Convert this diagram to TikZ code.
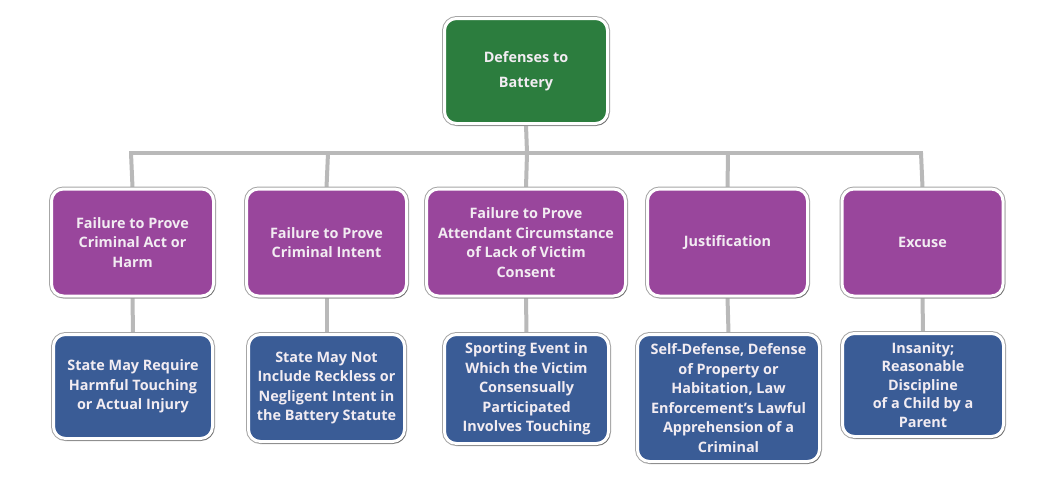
\documentclass[tikz,border=0pt]{standalone}
\usepackage{fontspec}
\setmainfont{Open Sans}
\usetikzlibrary{shadows}
\pgfdeclarelayer{bg}
\pgfdeclarelayer{background}
\pgfsetlayers{bg,background,main}
\definecolor{boxgreen}{RGB}{44,125,62}
\definecolor{boxpurple}{RGB}{153,70,156}
\definecolor{boxblue}{RGB}{58,92,150}
\definecolor{linegray}{RGB}{185,185,185}
\definecolor{textlight}{RGB}{242,236,242}
\begin{document}
\begin{tikzpicture}[x=1pt,y=1pt,
  box/.style={rounded corners=12pt, draw=white, line width=3pt, text=textlight,
    font=\bfseries\fontsize{14.4}{19.5}\selectfont, align=center, inner sep=1pt,
    preaction={draw=gray!70, line width=5pt},
    drop shadow={shadow xshift=1.5pt, shadow yshift=-2pt, opacity=0.35, fill=black}},
  gbox/.style={box, fill=boxgreen},
  pbox/.style={box, fill=boxpurple},
  bbox/.style={box, fill=boxblue},
  conn/.style={draw=linegray, line width=4pt}
]
\useasboundingbox (0,0) rectangle (1048,-483);
\begin{pgfonlayer}{bg}
  \fill[white] (0,0) rectangle (1048,-483);
\end{pgfonlayer}

\coordinate (barL) at (129,-153);
\coordinate (barR) at (923,-153);
\coordinate (barM) at (527,-153);
\coordinate (d1) at (131,-153);
\coordinate (d2) at (328,-153);
\coordinate (d3) at (527,-153);
\coordinate (d4) at (728,-153);
\coordinate (d5) at (921,-153);

% top
\node[gbox, minimum width=163pt, minimum height=105pt, font=\bfseries\fontsize{14.4}{25}\selectfont] (top) at (526,-71) {Defenses to\\Battery};

% purple row
\node[pbox, minimum width=162pt, minimum height=107pt] (p1) at (132.5,-242.5) {Failure to Prove\\Criminal Act or\\Harm};
\node[pbox, minimum width=160pt, minimum height=107pt] (p2) at (326.5,-242.5) {Failure to Prove\\Criminal Intent};
\node[pbox, minimum width=199pt, minimum height=107pt] (p3) at (526,-242.5) {Failure to Prove\\Attendant Circumstance\\of Lack of Victim\\Consent};
\node[pbox, minimum width=160pt, minimum height=107pt] (p4) at (727.5,-242.5) {Justification};
\node[pbox, minimum width=161pt, minimum height=107pt] (p5) at (922.5,-242.5) {Excuse};

% blue row
\node[bbox, minimum width=159pt, minimum height=104pt] (b1) at (133,-386.5) {State May Require\\Harmful Touching\\or Actual Injury};
\node[bbox, minimum width=156pt, minimum height=107pt] (b2) at (326.5,-388) {State May Not\\Include Reckless or\\Negligent Intent in\\the Battery Statute};
\node[bbox, minimum width=164pt, minimum height=109pt] (b3) at (526.5,-389) {Sporting Event in\\Which the Victim\\Consensually\\Participated\\Involves Touching};
\node[bbox, minimum width=182pt, minimum height=127pt] (b4) at (728.5,-398) {Self-Defense, Defense\\of Property or\\Habitation, Law\\Enforcement’s Lawful\\Apprehension of a\\Criminal};
\node[bbox, minimum width=161pt, minimum height=103pt, font=\bfseries\fontsize{14.4}{18.5}\selectfont] (b5) at (923,-385) {Insanity;\\Reasonable\\Discipline\\of a Child by a\\Parent};

\begin{pgfonlayer}{background}
  \draw[conn] (top.south) -- (barM);
  \draw[conn] (barL) -- (barR);
  \draw[conn] (d1) -- (p1.north);
  \draw[conn] (d2) -- (p2.north);
  \draw[conn] (d3) -- (p3.north);
  \draw[conn] (d4) -- (p4.north);
  \draw[conn] (d5) -- (p5.north);
  \draw[conn] (p1.south) -- (b1.north);
  \draw[conn] (p2.south) -- (b2.north);
  \draw[conn] (p3.south) -- (b3.north);
  \draw[conn] (p4.south) -- (b4.north);
  \draw[conn] (p5.south) -- (b5.north);
\end{pgfonlayer}
\end{tikzpicture}
\end{document}
